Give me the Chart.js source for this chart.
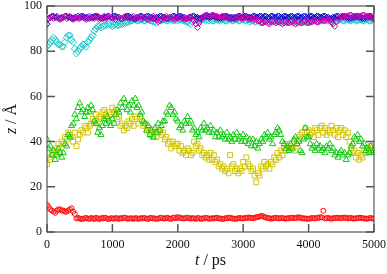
<!DOCTYPE html>
<html>
<head>
<meta charset="utf-8">
<script src="https://cdn.jsdelivr.net/npm/chart.js@4"></script>
<style>
  html, body { margin: 0; padding: 0; background: #fff; }
  #wrap { width: 387px; height: 274px; position: relative; }
</style>
</head>
<body>
<div id="wrap"><canvas id="c"></canvas></div>
<script>
// time axis, ps (one frame every 25 ps)
const T = [0,25,50,75,100,125,150,175,200,225,250,275,300,325,350,375,400,425,450,475,
  500,525,550,575,600,625,650,675,700,725,750,775,800,825,850,875,900,925,950,975,
  1000,1025,1050,1075,1100,1125,1150,1175,1200,1225,1250,1275,1300,1325,1350,1375,1400,1425,1450,1475,
  1500,1525,1550,1575,1600,1625,1650,1675,1700,1725,1750,1775,1800,1825,1850,1875,1900,1925,1950,1975,
  2000,2025,2050,2075,2100,2125,2150,2175,2200,2225,2250,2275,2300,2325,2350,2375,2400,2425,2450,2475,
  2500,2525,2550,2575,2600,2625,2650,2675,2700,2725,2750,2775,2800,2825,2850,2875,2900,2925,2950,2975,
  3000,3025,3050,3075,3100,3125,3150,3175,3200,3225,3250,3275,3300,3325,3350,3375,3400,3425,3450,3475,
  3500,3525,3550,3575,3600,3625,3650,3675,3700,3725,3750,3775,3800,3825,3850,3875,3900,3925,3950,3975,
  4000,4025,4050,4075,4100,4125,4150,4175,4200,4225,4250,4275,4300,4325,4350,4375,4400,4425,4450,4475,
  4500,4525,4550,4575,4600,4625,4650,4675,4700,4725,4750,4775,4800,4825,4850,4875,4900,4925,4950,4975,5000];

// z positions, Å
const zRed = [12,11,10,9.5,9,8.5,9.5,10,10,9.5,9.5,9,9,9.5,10,10.5,9,8,6,6.2,
  6,5.7,5.8,6.1,6.2,5.9,5.8,6.2,6,5.7,6.3,6,5.7,6.1,6,6.3,6.2,5.8,5.8,6.1,
  6,5.9,6.2,6,5.8,6.2,6,6.3,6.3,5.9,5.9,6.1,6,5.8,6.2,6,5.8,6.1,6,6.2,
  6.1,5.9,5.8,6.2,6.2,6,6,5.8,5.9,6.2,6.3,6,6,6.2,6.2,5.9,5.8,6.3,6.4,6.1,
  6.6,6.3,6.2,6,6,6.2,6.3,6.1,5.9,6.2,6,5.8,6.2,6.1,5.8,6,6,6.3,6.2,5.9,
  5.9,6.1,6,6.2,6.3,6,6,5.8,5.8,6.1,6.1,6.3,6.3,6,6,5.8,5.9,6.1,6.2,6,
  6,6.2,6.2,6.4,6.4,6.2,6.1,6.3,6.5,6.7,6.8,7.1,7,6.6,6.4,6.2,6.1,5.9,6,6.2,
  6.3,6.1,6,6.2,6.2,6,5.9,6.1,6,6.3,6.3,6.1,6.2,6.4,6.5,6.3,6.1,6,6,5.9,
  5.8,6,6.2,6.1,6,6.3,6.3,6.5,6.5,9.4,6,6.1,6.2,6,5.9,6.1,6.1,6.3,6.3,6.1,
  6.2,6.3,6.4,6.2,6,6.2,6.2,6,5.9,6.1,6.1,6.3,6.3,6.1,6,5.9,5.9,6.1,6.2,6,5.8];
const zYellow = [30,33,32,35,34,37,36,39,35,40,39,42,41,44,43,42,40,44,38,41,
  43,45,44,47,46,44,47,48,50,49,52,48,51,50,53,54,52,50,53,52,
  55,53,54,50,51,47,48,45,47,46,49,48,50,47,51,50,48,51,49,47,
  48,45,46,43,44,42,45,42,44,45,43,44,41,42,39,40,37,40,38,39,
  39,36,38,35,36,34,37,36,34,35,40,38,39,36,37,34,35,33,34,32,
  35,32,34,31,32,29,30,28,29,27,28,26,34,29,30,27,28,26,28,27,
  31,29,33,30,29,27,28,25,22,26,25,29,28,31,29,30,28,31,30,33,
  32,35,33,36,34,37,36,39,37,38,37,40,36,39,41,43,44,42,46,44,
  45,43,44,42,46,45,43,46,47,44,46,43,45,44,47,45,43,46,42,45,
  46,43,45,42,44,40,37,35,36,33,35,32,34,33,36,35,37,36,38,37,36];
const zGreen = [41,37,38,34,36,32,34,37,35,33,35,39,38,43,42,47,48,52,50,55,
  57,53,54,51,53,55,53,56,54,49,48,44,46,43,47,50,48,51,49,47,
  50,48,52,54,53,57,55,59,57,54,56,53,58,56,59,55,56,52,53,49,
  48,45,47,43,45,42,46,44,48,45,47,49,49,53,52,56,55,52,53,50,
  49,46,47,45,49,48,51,48,49,45,46,43,44,42,46,45,48,45,46,44,
  47,44,45,42,44,42,45,42,43,41,44,41,42,40,43,41,44,41,42,40,
  43,40,42,39,41,38,41,38,40,37,39,41,40,43,42,44,41,42,39,43,
  44,46,45,43,40,39,37,38,36,39,37,41,42,39,40,36,35,41,46,42,
  42,39,37,38,36,39,37,38,36,37,35,38,37,39,36,37,34,35,33,35,
  36,34,35,32,34,35,38,39,42,41,43,40,41,38,39,36,37,35,38,35,36];
const zCyan = [82,83,84,85,86,85,84,83,83,82,82,84,86,87,87,85,84,81,79,80,
  81,82,83,83,82,84,85,86,87,89,90,91,91,90.5,91,91.5,91.5,92,92,91.5,
  91,91.5,92,91.5,91.5,92,92,92.5,92.5,93,93,93.5,93.5,94,94,93.5,93.5,94,94,93.5,
  93.5,94,94,93.5,93.5,93,93,92.5,94,93.5,93.5,94,94,93.5,93.5,94,94,93.5,93.5,94,
  93.5,94,94,93.5,93.5,93,93,92.5,92,93,93.5,94,94,93.5,93.5,94,94,93.5,94,93.5,
  94,93.5,93.5,94,94,93.5,93.5,94,94,93.5,93.5,94,94,93.5,93.5,94,94,93.5,93.5,94,
  94,93.5,93.5,94,93,93.5,93.5,93,93,93.5,93.5,93,93,93.5,93.5,93,93,93.5,93,93.5,
  93.5,93,93,93.5,93.5,93,93,93.5,93.5,93,93,93.5,93.5,93,93,93.5,93.5,93,93,93.5,
  93.5,93,93,93.5,93.5,93,93,93.5,93.5,94,94,93.5,93.5,94,93,94,94,93.5,93.5,94,
  94,93.5,93.5,94,94,93.5,93.5,94,94,93.5,93.5,94,94,93.5,93.5,94,94,93.5,93.5,94,94];
const zBlue = [92,94.5,95,95.5,95.5,95,95,94.5,94.5,95,95,95.5,95.5,95,95,94.5,94.5,95,95,95.5,
  95,95.5,95.5,95,95,94.5,94.5,95,95,95.5,95.5,95,95,94.5,94.5,95,95,95.5,95.5,95,
  95,95.5,95.5,95,95,94.5,94.5,95,95,95.5,95.5,95,95,94.5,94.5,95,95,95.5,95.5,95,
  95,95.5,95.5,95,95,94.5,94.5,95,95,95.5,95.5,95,95,94.5,94.5,95,95,95.5,95.5,95,
  95,95.5,95.5,95,95,94.5,94.5,95,95,95.5,95.5,95,95,94.5,94.5,95,95,95.5,95.5,95,
  95,95.5,95.5,95,95,94.5,94.5,95,95,95.5,95.5,95,95,94.5,94.5,95,95,95.5,95.5,95,
  95,95.5,95.5,95,95,95,95.5,95.5,95,95,95.5,95.5,95,95.5,95.5,95,95,95.5,95.5,95,
  95,95.5,95.5,95,95,95.5,95.5,95,95,95.5,95.5,95,95,95.5,95.5,95,95,95.5,95.5,95,
  95,95.5,95.5,95,95,95.5,95.5,95,95,95.5,95.5,95,95,94.5,94.5,95,95,95.5,95.5,95,
  95,95.5,95.5,95,95,94.5,94.5,95,95,95.5,95.5,95,95,94.5,94.5,95,95,95.5,95.5,95,94.5];
const zMagenta = [94,94.5,95,95,94.5,95,95.5,94.5,94,94.5,95,95.5,94.5,95,95.5,95,94,94.5,95,94.5,
  94.5,95,95,94.5,94,95,95.5,95,94.5,94.5,95,95.5,94,94.5,95,95.5,94.5,95,95.5,95,
  94.5,94.5,94,95,95,94.5,94.5,95,95.5,95,94.5,94.5,95,95.5,94,94.5,95,95.5,94.5,95,
  95,94.5,94,94.5,95,95.5,94.5,94,93,93.5,94,94.5,95,95.5,94.5,95,95,94.5,94,94.5,
  94.5,95,95,94.5,94,94.5,94.5,95,95,94,93.5,92,90.5,92.5,94,95,95.5,96,96,95.5,
  95.5,96,96,95.5,95.5,95,95,95.5,95.5,95,95,94.5,94.5,95,95,94.5,94.5,95,95,94.5,
  94.5,95,95,94.5,94,94.5,94.5,94,94,93.5,93.5,92.5,92.5,93,93,92.5,92,93,93.5,93,
  92.5,93,93,92.5,92,92.5,93,92.5,92.5,93,93.5,92.5,92,92.5,93,92.5,92.5,93,93.5,92.5,
  92.5,93,93,93.5,93.5,93,93,93.5,94,93.5,93.5,94,94,93.5,93,92,91,93,94.5,95,
  95.5,95,95,95.5,95.5,96,96,95.5,95.5,95,95,95.5,95.5,96,96,95.5,95.5,95,95,95,95];

const xTicks = [0, 1000, 2000, 3000, 4000, 5000];
const yTicks = [0, 20, 40, 60, 80, 100];

const SERIF = "'Liberation Serif', 'DejaVu Serif', serif";

function pts(ys) { return T.map((t, i) => ({ x: t, y: ys[i] })); }

function series(ys, color, style, r, order) {
  return {
    data: pts(ys), showLine: false, order,
    pointStyle: style, pointRadius: r, pointHoverRadius: r,
    pointBorderColor: color, pointBackgroundColor: "rgba(0,0,0,0)", pointBorderWidth: 1
  };
}

// frame, inward ticks and mixed italic axis titles
const framePlugin = {
  id: "frame",
  afterDraw(chart) {
    const { ctx, chartArea: a, scales } = chart;
    ctx.save();
    ctx.strokeStyle = "#333";
    ctx.lineWidth = 1;
    ctx.strokeRect(a.left, a.top, a.right - a.left, a.bottom - a.top);
    ctx.strokeStyle = "#555";
    ctx.lineWidth = 1.5;
    const L = 8;
    ctx.beginPath();
    xTicks.forEach(v => {
      const px = scales.x.getPixelForValue(v);
      ctx.moveTo(px, a.bottom); ctx.lineTo(px, a.bottom - L);
      ctx.moveTo(px, a.top); ctx.lineTo(px, a.top + L);
    });
    yTicks.forEach(v => {
      const py = scales.y.getPixelForValue(v);
      ctx.moveTo(a.left, py); ctx.lineTo(a.left + L, py);
      ctx.moveTo(a.right, py); ctx.lineTo(a.right - L, py);
    });
    ctx.stroke();

    ctx.fillStyle = "#111";
    ctx.textBaseline = "alphabetic";
    ctx.textAlign = "left";
    const drawMixed = (a1, a2) => {
      ctx.font = "italic 16px " + SERIF;
      const w1 = ctx.measureText(a1).width;
      ctx.font = "16px " + SERIF;
      const w2 = ctx.measureText(a2).width;
      const x0 = -(w1 + w2) / 2;
      ctx.font = "italic 16px " + SERIF;
      ctx.fillText(a1, x0, 0);
      ctx.font = "16px " + SERIF;
      ctx.fillText(a2, x0 + w1, 0);
    };
    ctx.save();
    ctx.translate((a.left + a.right) / 2, 265);
    drawMixed("t", " / ps");
    ctx.restore();
    ctx.save();
    ctx.translate(16, (a.top + a.bottom) / 2);
    ctx.rotate(-Math.PI / 2);
    drawMixed("z", " / Å");
    ctx.restore();
    ctx.restore();
  }
};

new Chart(document.getElementById("c"), {
  type: "scatter",
  data: {
    datasets: [
      series(zMagenta, "#cc00b0", "rectRot", 3, 0),
      series(zBlue, "#0000c8", "rectRot", 3, 1),
      series(zCyan, "#20c8c8", "rectRot", 3.5, 2),
      series(zGreen, "#10c810", "triangle", 3.5, 3),
      series(zYellow, "#d2c400", "rect", 3.5, 4),
      series(zRed, "#ff1010", "circle", 2.5, 5)
    ]
  },
  options: {
    responsive: true,
    maintainAspectRatio: false,
    animation: false,
    layout: { padding: { top: 6, right: 13, left: 0, bottom: 0 } },
    plugins: { legend: { display: false }, tooltip: { enabled: false } },
    scales: {
      x: {
        type: "linear", min: 0, max: 5000,
        afterBuildTicks(s) { s.ticks = xTicks.map(v => ({ value: v })); },
        afterFit(s) { s.height = 42; s.paddingLeft = 0; s.paddingRight = 0; },
        grid: { display: false, drawTicks: false },
        border: { display: false },
        ticks: { padding: 6, color: "#111", font: { family: SERIF, size: 12 }, maxRotation: 0,
                 callback: v => String(v) }
      },
      y: {
        type: "linear", min: 0, max: 100,
        afterBuildTicks(s) { s.ticks = yTicks.map(v => ({ value: v })); },
        afterFit(s) { s.width = 47; s.paddingTop = 0; s.paddingBottom = 0; },
        grid: { display: false, drawTicks: false },
        border: { display: false },
        ticks: { padding: 5, color: "#111", font: { family: SERIF, size: 12 },
                 callback: v => String(v) }
      }
    }
  },
  plugins: [framePlugin]
});
</script>
</body>
</html>
